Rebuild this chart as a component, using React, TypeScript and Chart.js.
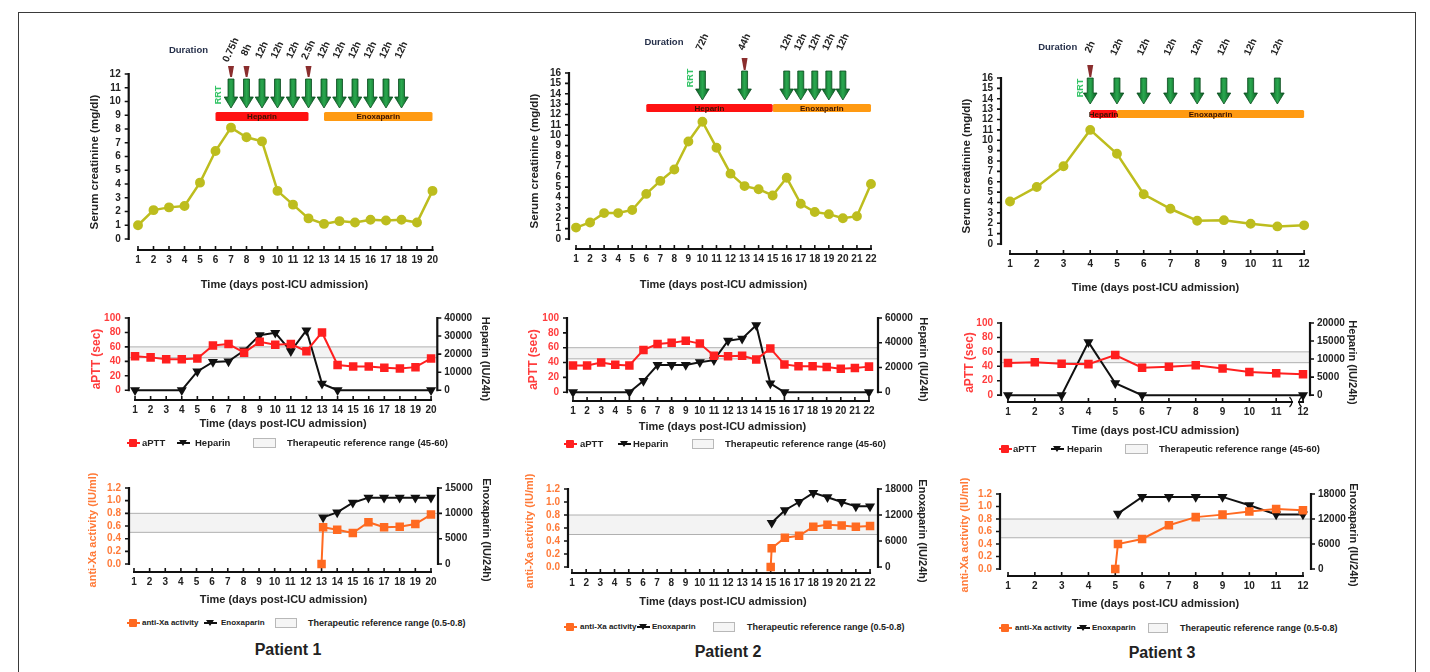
import React, { useEffect, useRef } from 'react';
import { Chart, registerables } from 'chart.js';

Chart.register(...registerables);

const FONT = '"Liberation Sans", Arial, Helvetica, sans-serif';
Chart.defaults.font.family = FONT;

// ======================= DATA =======================
// ---- Patient 1 ----
const p1Days = [1, 2, 3, 4, 5, 6, 7, 8, 9, 10, 11, 12, 13, 14, 15, 16, 17, 18, 19, 20];
const p1Creatinine = [1.0, 2.1, 2.3, 2.4, 4.1, 6.4, 8.1, 7.4, 7.1, 3.5, 2.5, 1.5, 1.1, 1.3, 1.2, 1.4, 1.35, 1.4, 1.2, 3.5];
const p1Aptt = [47, 45.5, 43, 43, 44, 62, 64, 52, 67, 63, 64, 54, 80, 35, 33, 33, 31, 30, 32, 44];
const p1Heparin = [0, null, null, 0, 10400, 15700, 16000, 22000, 30500, 31800, 21600, 33200, 3600, 0, null, null, null, null, null, 0];
const p1XaDays = [13, 13.1, 14, 15, 16, 17, 18, 19, 20];
const p1AntiXa = [0.0, 0.58, 0.54, 0.49, 0.66, 0.58, 0.59, 0.63, 0.78];
const p1EnoxDays = [13.1, 14, 15, 16, 17, 18, 19, 20];
const p1Enoxaparin = [9200, 10200, 12100, 13100, 13100, 13100, 13100, 13100];
const p1RrtDays = [7, 8, 9, 10, 11, 12, 13, 14, 15, 16, 17, 18];
const p1RrtDurations = ['0.75h', '8h', '12h', '12h', '12h', '2.5h', '12h', '12h', '12h', '12h', '12h', '12h'];
const p1ShortRunDays = [7, 8, 12];
const p1HeparinPeriod = [6, 12];
const p1EnoxPeriod = [13, 20];
const p1CreatTicks = [0, 1, 2, 3, 4, 5, 6, 7, 8, 9, 10, 11, 12];
const p1HeparinTicks = [0, 10000, 20000, 30000, 40000];
const p1EnoxTicks = [0, 5000, 10000, 15000];

// ---- Patient 2 ----
const p2Days = [1, 2, 3, 4, 5, 6, 7, 8, 9, 10, 11, 12, 13, 14, 15, 16, 17, 18, 19, 20, 21, 22];
const p2Creatinine = [1.1, 1.6, 2.5, 2.5, 2.8, 4.35, 5.6, 6.7, 9.4, 11.3, 8.8, 6.3, 5.1, 4.8, 4.2, 5.9, 3.4, 2.6, 2.4, 2.0, 2.2, 5.3];
const p2Aptt = [36, 36, 40, 37, 36, 57, 65, 66.5, 69.5, 65.5, 49, 48.5, 49, 44, 59, 37.5, 35, 35, 34, 31.5, 32.5, 34.5];
const p2Heparin = [0, null, null, null, 0, 9200, 22000, 22000, 22000, 24300, 25900, 41700, 43300, 54200, 7100, 0, null, null, null, null, null, 0];
const p2XaDays = [15, 15.07, 16, 17, 18, 19, 20, 21, 22];
const p2AntiXa = [0.0, 0.29, 0.45, 0.48, 0.62, 0.65, 0.64, 0.62, 0.63];
const p2EnoxDays = [15.07, 16, 17, 18, 19, 20, 21, 22];
const p2Enoxaparin = [10200, 13100, 15000, 17100, 16100, 15000, 14000, 14000];
const p2RrtDays = [10, 13, 16, 17, 18, 19, 20];
const p2RrtDurations = ['72h', '44h', '12h', '12h', '12h', '12h', '12h'];
const p2ShortRunDays = [13];
const p2HeparinPeriod = [6, 15];
const p2EnoxPeriod = [15, 22];
const p2CreatTicks = [0, 1, 2, 3, 4, 5, 6, 7, 8, 9, 10, 11, 12, 13, 14, 15, 16];
const p2HeparinTicks = [0, 20000, 40000, 60000];
const p2EnoxTicks = [0, 6000, 12000, 18000];

// ---- Patient 3 ----
const p3Days = [1, 2, 3, 4, 5, 6, 7, 8, 9, 10, 11, 12];
const p3Creatinine = [4.1, 5.5, 7.5, 11.0, 8.7, 4.8, 3.4, 2.25, 2.3, 1.95, 1.7, 1.8];
const p3Aptt = [44.5, 45.5, 43.5, 43, 55.5, 38, 39.5, 41.5, 37, 32, 30.5, 29];
const p3Heparin = [0, null, 0, 14700, 3300, 0, null, null, null, null, null, 0];
const p3XaDays = [5, 5.1, 6, 7, 8, 9, 10, 11, 12];
const p3AntiXa = [0.0, 0.40, 0.48, 0.70, 0.83, 0.87, 0.92, 0.96, 0.94];
const p3EnoxDays = [5.1, 6, 7, 8, 9, 10, 11, 12];
const p3Enoxaparin = [13300, 17300, 17300, 17300, 17300, 15300, 13100, 13100];
const p3RrtDays = [4, 5, 6, 7, 8, 9, 10, 11];
const p3RrtDurations = ['2h', '12h', '12h', '12h', '12h', '12h', '12h', '12h'];
const p3ShortRunDays = [4];
const p3HeparinPeriod = [4, 5];
const p3EnoxPeriod = [5, 12];
const p3CreatTicks = [0, 1, 2, 3, 4, 5, 6, 7, 8, 9, 10, 11, 12, 13, 14, 15, 16];
const p3HeparinTicks = [0, 5000, 10000, 15000, 20000];
const p3EnoxTicks = [0, 6000, 12000, 18000];

// ---- shared ----
const apttTicks = [0, 20, 40, 60, 80, 100];
const antiXaTicks = [0, 0.2, 0.4, 0.6, 0.8, 1.0, 1.2];
const apttTherapeuticRange = [45, 60];
const antiXaTherapeuticRange = [0.5, 0.8];

// ======================= STYLE =======================
const CREAT = '#bdbd1e';
const APTT = '#ff1f1f';
const APTT_AX = '#ff3d3d';
const XA = '#ff6a21';
const XA_AX = '#ff7a38';
const INK = '#222';

const pts = (xs: number[], ys: (number | null)[]) => xs.map((x, i) => ({ x, y: ys[i] }));

const creatSet = (xs: number[], ys: number[]) => ({
  data: pts(xs, ys), borderColor: CREAT, backgroundColor: CREAT, borderWidth: 2.5,
  pointRadius: 3.7, pointStyle: 'circle', pointBackgroundColor: CREAT, pointBorderColor: CREAT,
  yAxisID: 'y', clip: false, tension: 0,
});
const markSet = (xs: number[], ys: number[], color: string) => ({
  data: pts(xs, ys), borderColor: color, backgroundColor: color, borderWidth: 2,
  pointRadius: 4.6, pointStyle: 'rect', pointBackgroundColor: color, pointBorderColor: color,
  yAxisID: 'y', clip: false, tension: 0,
});
const drugSet = (xs: number[], ys: (number | null)[]) => ({
  data: pts(xs, ys), borderColor: '#111', backgroundColor: '#111', borderWidth: 2,
  pointRadius: 3.8, pointStyle: 'triangle', pointRotation: 180, pointBackgroundColor: '#111', pointBorderColor: '#111',
  spanGaps: true, yAxisID: 'y2', clip: false, tension: 0,
});

type Axis = {
  min: number; max: number; ticks: number[]; title: string; titleX: number; titleSize: number;
  color: string; titleColor: string; decimals?: number;
};
type Ann = {
  rrtDays: number[]; durations: string[]; shortDays: number[]; heparin: number[]; enox: number[];
  labelDy: number; flagDy: number[]; arrowDy: number[]; barDy: number[]; rrtDx: number; rrtDy: number; durationDx: number;
};
type PanelDef = {
  area: number[]; padTop: number;
  x: { min: number; max: number; ticks: number[]; titleY: number };
  y: Axis; y2?: Axis; datasets: any[]; band?: number[]; ann?: Ann; breakAt?: number;
};

const creatAxis = (ticks: number[], min: number, max: number, titleX: number): Axis => ({
  min, max, ticks, title: 'Serum creatinine (mg/dl)', titleX, titleSize: 11.5, color: INK, titleColor: INK,
});
const apttAxis = (min: number, titleX: number): Axis => ({
  min, max: 100, ticks: apttTicks, title: 'aPTT (sec)', titleX, titleSize: 12, color: APTT_AX, titleColor: APTT_AX,
});
const xaAxis = (min: number, titleX: number): Axis => ({
  min, max: 1.2, ticks: antiXaTicks, title: 'anti-Xa activity (IU/ml)', titleX, titleSize: 11, color: XA_AX, titleColor: XA_AX, decimals: 1,
});
const drugAxis = (title: string, ticks: number[], titleX: number): Axis => ({
  min: 0, max: ticks[ticks.length - 1], ticks, title, titleX, titleSize: 11, color: INK, titleColor: INK,
});

const PANELS: PanelDef[] = [
  // ---------- Patient 1 ----------
  {
    area: [128.7, 74, 440.25, 250], padTop: 46,
    x: { min: 0.4, max: 20.5, ticks: p1Days, titleY: 285 },
    y: creatAxis(p1CreatTicks, -0.8, 12, 95),
    datasets: [creatSet(p1Days, p1Creatinine)],
    ann: { rrtDays: p1RrtDays, durations: p1RrtDurations, shortDays: p1ShortRunDays, heparin: p1HeparinPeriod, enox: p1EnoxPeriod,
      labelDy: -24, flagDy: [-8, 3], arrowDy: [5, 34], barDy: [38, 47], rrtDx: -12, rrtDy: 16, durationDx: -23 },
  },
  {
    area: [128.8, 316, 437.3, 400], padTop: 12,
    x: { min: 0.6, max: 20.4, ticks: p1Days, titleY: 424 },
    y: apttAxis(-13.5, 97), y2: drugAxis('Heparin (IU/24h)', p1HeparinTicks, 485),
    band: apttTherapeuticRange,
    datasets: [markSet(p1Days, p1Aptt, APTT), drugSet(p1Days, p1Heparin)],
  },
  {
    area: [129, 488, 438, 572], padTop: 26,
    x: { min: 0.68, max: 20.45, ticks: p1Days, titleY: 600 },
    y: xaAxis(-0.126, 93), y2: drugAxis('Enoxaparin (IU/24h)', p1EnoxTicks, 486),
    band: antiXaTherapeuticRange,
    datasets: [markSet(p1XaDays, p1AntiXa, XA), drugSet(p1EnoxDays, p1Enoxaparin)],
  },
  // ---------- Patient 2 ----------
  {
    area: [569, 73, 878, 249], padTop: 46,
    x: { min: 0.5, max: 22.5, ticks: p2Days, titleY: 285 },
    y: creatAxis(p2CreatTicks, -0.96, 16, 535),
    datasets: [creatSet(p2Days, p2Creatinine)],
    ann: { rrtDays: p2RrtDays, durations: p2RrtDurations, shortDays: p2ShortRunDays, heparin: p2HeparinPeriod, enox: p2EnoxPeriod,
      labelDy: -31, flagDy: [-15, -3], arrowDy: [-2, 27], barDy: [31, 39], rrtDx: -12, rrtDy: 7, durationDx: -19 },
  },
  {
    area: [567, 316, 878, 401], padTop: 12,
    x: { min: 0.575, max: 22.64, ticks: p2Days, titleY: 427 },
    y: apttAxis(-11.8, 534), y2: drugAxis('Heparin (IU/24h)', p2HeparinTicks, 923),
    band: apttTherapeuticRange,
    datasets: [markSet(p2Days, p2Aptt, APTT), drugSet(p2Days, p2Heparin)],
  },
  {
    area: [568, 489, 878, 573], padTop: 26,
    x: { min: 0.72, max: 22.56, ticks: p2Days, titleY: 602 },
    y: xaAxis(-0.092, 530), y2: drugAxis('Enoxaparin (IU/24h)', p2EnoxTicks, 922),
    band: antiXaTherapeuticRange,
    datasets: [markSet(p2XaDays, p2AntiXa, XA), drugSet(p2EnoxDays, p2Enoxaparin)],
  },
  // ---------- Patient 3 ----------
  {
    area: [1001, 78, 1310, 254], padTop: 52,
    x: { min: 0.663, max: 12.22, ticks: p3Days, titleY: 288 },
    y: creatAxis(p3CreatTicks, -0.96, 16, 967),
    datasets: [creatSet(p3Days, p3Creatinine)],
    ann: { rrtDays: p3RrtDays, durations: p3RrtDurations, shortDays: p3ShortRunDays, heparin: p3HeparinPeriod, enox: p3EnoxPeriod,
      labelDy: -31, flagDy: [-13, -1], arrowDy: [0, 26], barDy: [32, 40], rrtDx: -10, rrtDy: 10, durationDx: -13 },
  },
  {
    area: [1001, 321, 1310, 402], padTop: 12,
    x: { min: 0.74, max: 12.26, ticks: p3Days, titleY: 431 },
    y: apttAxis(-9.5, 970), y2: drugAxis('Heparin (IU/24h)', p3HeparinTicks, 1352),
    band: apttTherapeuticRange, breakAt: 11.72,
    datasets: [markSet(p3Days, p3Aptt, APTT), drugSet(p3Days, p3Heparin)],
  },
  {
    area: [1000, 494, 1311, 576], padTop: 28,
    x: { min: 0.70, max: 12.3, ticks: p3Days, titleY: 604 },
    y: xaAxis(-0.112, 965), y2: drugAxis('Enoxaparin (IU/24h)', p3EnoxTicks, 1353),
    band: antiXaTherapeuticRange,
    datasets: [markSet(p3XaDays, p3AntiXa, XA), drugSet(p3EnoxDays, p3Enoxaparin)],
  },
];

type LegendItem = { kind: string; cx?: number; color?: string; x?: number; x0?: number; x1?: number; text?: string; size?: number };
const LEGENDS: { y: number; items: LegendItem[] }[] = [
  { y: 443, items: [
    { kind: 'sq', cx: 133, color: APTT }, { kind: 'text', x: 142, text: 'aPTT', size: 9.5 },
    { kind: 'tri', cx: 183 }, { kind: 'text', x: 195, text: 'Heparin', size: 9.5 },
    { kind: 'box', x0: 253, x1: 276 }, { kind: 'text', x: 287, text: 'Therapeutic reference range (45-60)', size: 9.5 } ] },
  { y: 444, items: [
    { kind: 'sq', cx: 570, color: APTT }, { kind: 'text', x: 580, text: 'aPTT', size: 9.5 },
    { kind: 'tri', cx: 624 }, { kind: 'text', x: 633, text: 'Heparin', size: 9.5 },
    { kind: 'box', x0: 692, x1: 714 }, { kind: 'text', x: 725, text: 'Therapeutic reference range (45-60)', size: 9.5 } ] },
  { y: 449, items: [
    { kind: 'sq', cx: 1005, color: APTT }, { kind: 'text', x: 1013, text: 'aPTT', size: 9.5 },
    { kind: 'tri', cx: 1057 }, { kind: 'text', x: 1067, text: 'Heparin', size: 9.5 },
    { kind: 'box', x0: 1125, x1: 1148 }, { kind: 'text', x: 1159, text: 'Therapeutic reference range (45-60)', size: 9.5 } ] },
  { y: 623, items: [
    { kind: 'sq', cx: 133, color: XA }, { kind: 'text', x: 142, text: 'anti-Xa activity', size: 8 },
    { kind: 'tri', cx: 210 }, { kind: 'text', x: 221, text: 'Enoxaparin', size: 8 },
    { kind: 'box', x0: 275, x1: 297 }, { kind: 'text', x: 308, text: 'Therapeutic reference range (0.5-0.8)', size: 9 } ] },
  { y: 627, items: [
    { kind: 'sq', cx: 570, color: XA }, { kind: 'text', x: 580, text: 'anti-Xa activity', size: 8 },
    { kind: 'tri', cx: 643 }, { kind: 'text', x: 652, text: 'Enoxaparin', size: 8 },
    { kind: 'box', x0: 713, x1: 735 }, { kind: 'text', x: 747, text: 'Therapeutic reference range (0.5-0.8)', size: 9 } ] },
  { y: 628, items: [
    { kind: 'sq', cx: 1005, color: XA }, { kind: 'text', x: 1015, text: 'anti-Xa activity', size: 8 },
    { kind: 'tri', cx: 1083 }, { kind: 'text', x: 1092, text: 'Enoxaparin', size: 8 },
    { kind: 'box', x0: 1148, x1: 1168 }, { kind: 'text', x: 1180, text: 'Therapeutic reference range (0.5-0.8)', size: 9 } ] },
];

const PATIENT_LABELS = [
  { x: 288, y: 650, text: 'Patient 1' },
  { x: 728, y: 652, text: 'Patient 2' },
  { x: 1162, y: 653, text: 'Patient 3' },
];

// ======================= DRAWING =======================
function geom(def: PanelDef) {
  const [l, t, r, b] = def.area;
  const leftW = l - (def.y.titleX - def.y.titleSize * 0.6);
  const rightW = def.y2 ? def.y2.titleX + def.y2.titleSize * 0.6 - r : 0;
  const bottomH = def.x.titleY + 11 * 0.6 - b;
  const cl = Math.floor(l - leftW - 4);
  const cr = Math.ceil(r + rightW + (def.y2 ? 4 : 14));
  const ct = Math.floor(t - def.padTop);
  const cb = Math.ceil(b + bottomH + 3);
  return {
    left: cl, top: ct, w: cr - cl, h: cb - ct, leftW, rightW, bottomH,
    pad: { left: l - leftW - cl, right: cr - r - rightW, top: t - ct, bottom: cb - b - bottomH },
  };
}

function drawArrow(ctx: CanvasRenderingContext2D, x: number, yTop: number, yTip: number) {
  const sh = 3, hh = 6.8, hl = 11;
  ctx.beginPath();
  ctx.moveTo(x - sh, yTop);
  ctx.lineTo(x + sh, yTop);
  ctx.lineTo(x + sh, yTip - hl);
  ctx.lineTo(x + hh, yTip - hl);
  ctx.lineTo(x, yTip);
  ctx.lineTo(x - hh, yTip - hl);
  ctx.lineTo(x - sh, yTip - hl);
  ctx.closePath();
  const g = ctx.createLinearGradient(x - hh, 0, x + hh, 0);
  g.addColorStop(0, '#0a5a22');
  g.addColorStop(0.5, '#2aa84f');
  g.addColorStop(1, '#0a5a22');
  ctx.fillStyle = g;
  ctx.fill();
  ctx.strokeStyle = '#0a4d1e';
  ctx.lineWidth = 0.8;
  ctx.stroke();
}

function makePlugin(def: PanelDef) {
  return {
    id: 'prismStyle',
    beforeDatasetsDraw(chart: any) {
      const { ctx, chartArea: ca, scales } = chart;
      ctx.save();
      if (def.band) {
        const ys = scales.y;
        const yt = ys.getPixelForValue(def.band[1]);
        const yb = ys.getPixelForValue(def.band[0]);
        ctx.fillStyle = '#f3f3f3';
        ctx.fillRect(ca.left, yt, ca.right - ca.left, yb - yt);
        ctx.strokeStyle = '#b0b0b0';
        ctx.lineWidth = 1;
        ctx.beginPath();
        ctx.moveTo(ca.left, yt); ctx.lineTo(ca.right, yt);
        ctx.moveTo(ca.left, yb); ctx.lineTo(ca.right, yb);
        ctx.stroke();
      }
      ctx.strokeStyle = '#111';
      // x axis
      const xs = scales.x;
      const xv = xs.ticks.map((t: any) => t.value);
      const xa = xs.getPixelForValue(xv[0]);
      const xb = xs.getPixelForValue(xv[xv.length - 1]);
      const ay = ca.bottom;
      ctx.lineWidth = 2.2;
      ctx.beginPath(); ctx.moveTo(xa - 1, ay); ctx.lineTo(xb + 1, ay); ctx.stroke();
      ctx.lineWidth = 1.6;
      ctx.beginPath();
      xv.forEach((v: number) => { const p = xs.getPixelForValue(v); ctx.moveTo(p, ay - 4); ctx.lineTo(p, ay + 1); });
      ctx.stroke();
      if (def.breakAt) {
        const p = xs.getPixelForValue(def.breakAt);
        ctx.fillStyle = '#fff';
        ctx.fillRect(p - 2.5, ay - 2, 5, 4);
        ctx.lineWidth = 1.2;
        ctx.beginPath();
        ctx.moveTo(p - 6, ay - 5); ctx.quadraticCurveTo(p - 1, ay, p - 6, ay + 5);
        ctx.moveTo(p + 6, ay - 5); ctx.quadraticCurveTo(p + 1, ay, p + 6, ay + 5);
        ctx.stroke();
      }
      // y axes
      const drawY = (s: any, x: number, dir: number) => {
        const tv = s.ticks.map((t: any) => t.value);
        const y0 = s.getPixelForValue(tv[0]);
        const y1 = s.getPixelForValue(tv[tv.length - 1]);
        ctx.lineWidth = 2.2;
        ctx.beginPath(); ctx.moveTo(x, y0 + 1); ctx.lineTo(x, y1 - 1); ctx.stroke();
        ctx.lineWidth = 1.6;
        ctx.beginPath();
        tv.forEach((v: number) => { const p = s.getPixelForValue(v); ctx.moveTo(x, p); ctx.lineTo(x + dir * 4, p); });
        ctx.stroke();
      };
      drawY(scales.y, ca.left, -1);
      if (scales.y2) drawY(scales.y2, ca.right, 1);
      ctx.restore();
    },
    afterDraw(chart: any) {
      const a = def.ann;
      if (!a) return;
      const { ctx, chartArea: ca, scales } = chart;
      const xs = scales.x;
      const top = ca.top;
      ctx.save();
      // drug bars
      const bars = [
        { range: a.enox, color: '#ff9a12', label: 'Enoxaparin' },
        { range: a.heparin, color: '#ff1212', label: 'Heparin' },
      ];
      bars.forEach((bdef) => {
        const x0 = xs.getPixelForValue(bdef.range[0]);
        const x1 = xs.getPixelForValue(bdef.range[1]);
        ctx.fillStyle = bdef.color;
        ctx.beginPath();
        (ctx as any).roundRect(x0, top + a.barDy[0], x1 - x0, a.barDy[1] - a.barDy[0], 1.5);
        ctx.fill();
      });
      ctx.font = `bold 8px ${FONT}`;
      ctx.textAlign = 'center';
      ctx.textBaseline = 'middle';
      ctx.fillStyle = '#3a1200';
      bars.forEach((bdef) => {
        const x0 = xs.getPixelForValue(bdef.range[0]);
        const x1 = xs.getPixelForValue(bdef.range[1]);
        ctx.fillText(bdef.label, (x0 + x1) / 2, top + (a.barDy[0] + a.barDy[1]) / 2 + 0.5);
      });
      // arrows + duration labels
      a.rrtDays.forEach((d, i) => {
        const x = xs.getPixelForValue(d);
        drawArrow(ctx, x, top + a.arrowDy[0], top + a.arrowDy[1]);
        ctx.save();
        ctx.translate(x, top + a.labelDy);
        ctx.rotate(-65 * Math.PI / 180);
        ctx.font = `bold 10px ${FONT}`;
        ctx.fillStyle = INK;
        ctx.textAlign = 'center';
        ctx.textBaseline = 'middle';
        ctx.fillText(a.durations[i], 0, 0);
        ctx.restore();
      });
      // short/interrupted runs
      ctx.fillStyle = '#8a2d2d';
      a.shortDays.forEach((d) => {
        const x = xs.getPixelForValue(d);
        const y0 = top + a.flagDy[0], y1 = top + a.flagDy[1];
        ctx.beginPath();
        ctx.moveTo(x - 3, y0); ctx.lineTo(x + 3, y0); ctx.lineTo(x + 1, y1); ctx.lineTo(x - 0.8, y1);
        ctx.closePath();
        ctx.fill();
      });
      const firstX = xs.getPixelForValue(a.rrtDays[0]);
      // "Duration"
      ctx.font = `bold 9.5px ${FONT}`;
      ctx.fillStyle = '#26304a';
      ctx.textAlign = 'right';
      ctx.textBaseline = 'middle';
      ctx.fillText('Duration', firstX + a.durationDx, top + a.labelDy);
      // RRT
      ctx.save();
      ctx.translate(firstX + a.rrtDx, top + a.arrowDy[0] + a.rrtDy);
      ctx.rotate(-Math.PI / 2);
      ctx.font = `bold 9px ${FONT}`;
      ctx.fillStyle = '#33c466';
      ctx.textAlign = 'center';
      ctx.textBaseline = 'middle';
      ctx.fillText('RRT', 0, 0);
      ctx.restore();
      ctx.restore();
    },
  };
}

function buildConfig(def: PanelDef, g: ReturnType<typeof geom>) {
  const tickFont = { size: 10, weight: 'bold' as const };
  const yScale = (ax: Axis, pos: string, min: number, width: number) => ({
    type: 'linear', position: pos, min, max: ax.max,
    afterBuildTicks: (s: any) => { s.ticks = ax.ticks.map((v) => ({ value: v })); },
    afterFit: (s: any) => { s.width = width; },
    grid: { display: false, drawTicks: false, drawOnChartArea: false },
    border: { display: false },
    ticks: {
      autoSkip: false,
      padding: pos === 'left' ? 8 : 7, color: ax.color, font: tickFont,
      callback: (v: any) => (ax.decimals != null ? Number(v).toFixed(ax.decimals) : String(v)),
    },
    title: { display: true, text: ax.title, color: ax.titleColor, font: { size: ax.titleSize, weight: 'bold' }, padding: 0 },
  });
  const scales: any = {
    x: {
      type: 'linear', position: 'bottom', min: def.x.min, max: def.x.max,
      afterBuildTicks: (s: any) => { s.ticks = def.x.ticks.map((v) => ({ value: v })); },
      afterFit: (s: any) => { s.height = g.bottomH; },
      grid: { display: false, drawTicks: false, drawOnChartArea: false },
      border: { display: false },
      ticks: { autoSkip: false, maxRotation: 0, minRotation: 0, padding: 4, color: INK, font: tickFont, callback: (v: any) => String(v) },
      title: { display: true, text: 'Time (days post-ICU admission)', color: INK, font: { size: 11, weight: 'bold' }, padding: 0 },
    },
    y: yScale(def.y, 'left', def.y.min, g.leftW),
  };
  if (def.y2) {
    const min2 = (def.y.min / def.y.max) * def.y2.max;
    scales.y2 = yScale(def.y2, 'right', min2, g.rightW);
  }
  return {
    type: 'line',
    data: { datasets: def.datasets },
    options: {
      animation: false,
      responsive: true,
      maintainAspectRatio: false,
      events: [],
      layout: { padding: g.pad },
      plugins: { legend: { display: false }, tooltip: { enabled: false } },
      scales,
    },
    plugins: [makePlugin(def)],
  };
}

function ChartPanel({ def }: { def: PanelDef }) {
  const ref = useRef<HTMLCanvasElement>(null);
  const g = geom(def);
  useEffect(() => {
    const chart = new Chart(ref.current as HTMLCanvasElement, buildConfig(def, g) as any);
    return () => chart.destroy();
  }, []);
  return (
    <div style={{ position: 'absolute', left: g.left, top: g.top, width: g.w, height: g.h }}>
      <canvas ref={ref} />
    </div>
  );
}

function Legend({ y, items }: { y: number; items: LegendItem[] }) {
  const out: any[] = [];
  items.forEach((it, i) => {
    if (it.kind === 'sq' || it.kind === 'tri') {
      const cx = it.cx as number;
      const c = it.kind === 'sq' ? (it.color as string) : '#111';
      out.push(<div key={i + 'l'} style={{ position: 'absolute', left: cx - 6.5, top: y - 1.25, width: 13, height: 2.5, background: c }} />);
      if (it.kind === 'sq') {
        out.push(<div key={i + 'm'} style={{ position: 'absolute', left: cx - 4, top: y - 4, width: 8, height: 8, background: c, borderRadius: 1 }} />);
      } else {
        out.push(<div key={i + 'm'} style={{ position: 'absolute', left: cx - 4, top: y - 3, width: 0, height: 0,
          borderLeft: '4px solid transparent', borderRight: '4px solid transparent', borderTop: '6px solid #111' }} />);
      }
    } else if (it.kind === 'box') {
      out.push(<div key={i} style={{ position: 'absolute', left: it.x0, top: y - 5, width: (it.x1 as number) - (it.x0 as number), height: 10,
        background: '#f5f5f5', border: '1px solid #b8b8b8', boxSizing: 'border-box' }} />);
    } else {
      const s = it.size as number;
      out.push(<div key={i} style={{ position: 'absolute', left: it.x, top: y - s * 0.6, fontSize: s, lineHeight: `${s * 1.2}px`,
        fontWeight: 'bold', whiteSpace: 'nowrap', color: INK }}>{it.text}</div>);
    }
  });
  return <>{out}</>;
}

export default function App() {
  return (
    <div style={{ position: 'absolute', left: 0, top: 0, width: 1430, height: 672, overflow: 'hidden', background: '#fff', fontFamily: FONT }}>
      <div style={{ position: 'absolute', left: 18, top: 12, width: 1396, height: 700, border: '1px solid #3a3a3a' }} />
      {PANELS.map((p, i) => <ChartPanel key={i} def={p} />)}
      {LEGENDS.map((l, i) => <Legend key={i} y={l.y} items={l.items} />)}
      {PATIENT_LABELS.map((p, i) => (
        <div key={i} style={{ position: 'absolute', left: p.x - 60, width: 120, top: p.y - 9.6, fontSize: 16, lineHeight: '19.2px',
          fontWeight: 'bold', textAlign: 'center', color: INK }}>{p.text}</div>
      ))}
    </div>
  );
}
